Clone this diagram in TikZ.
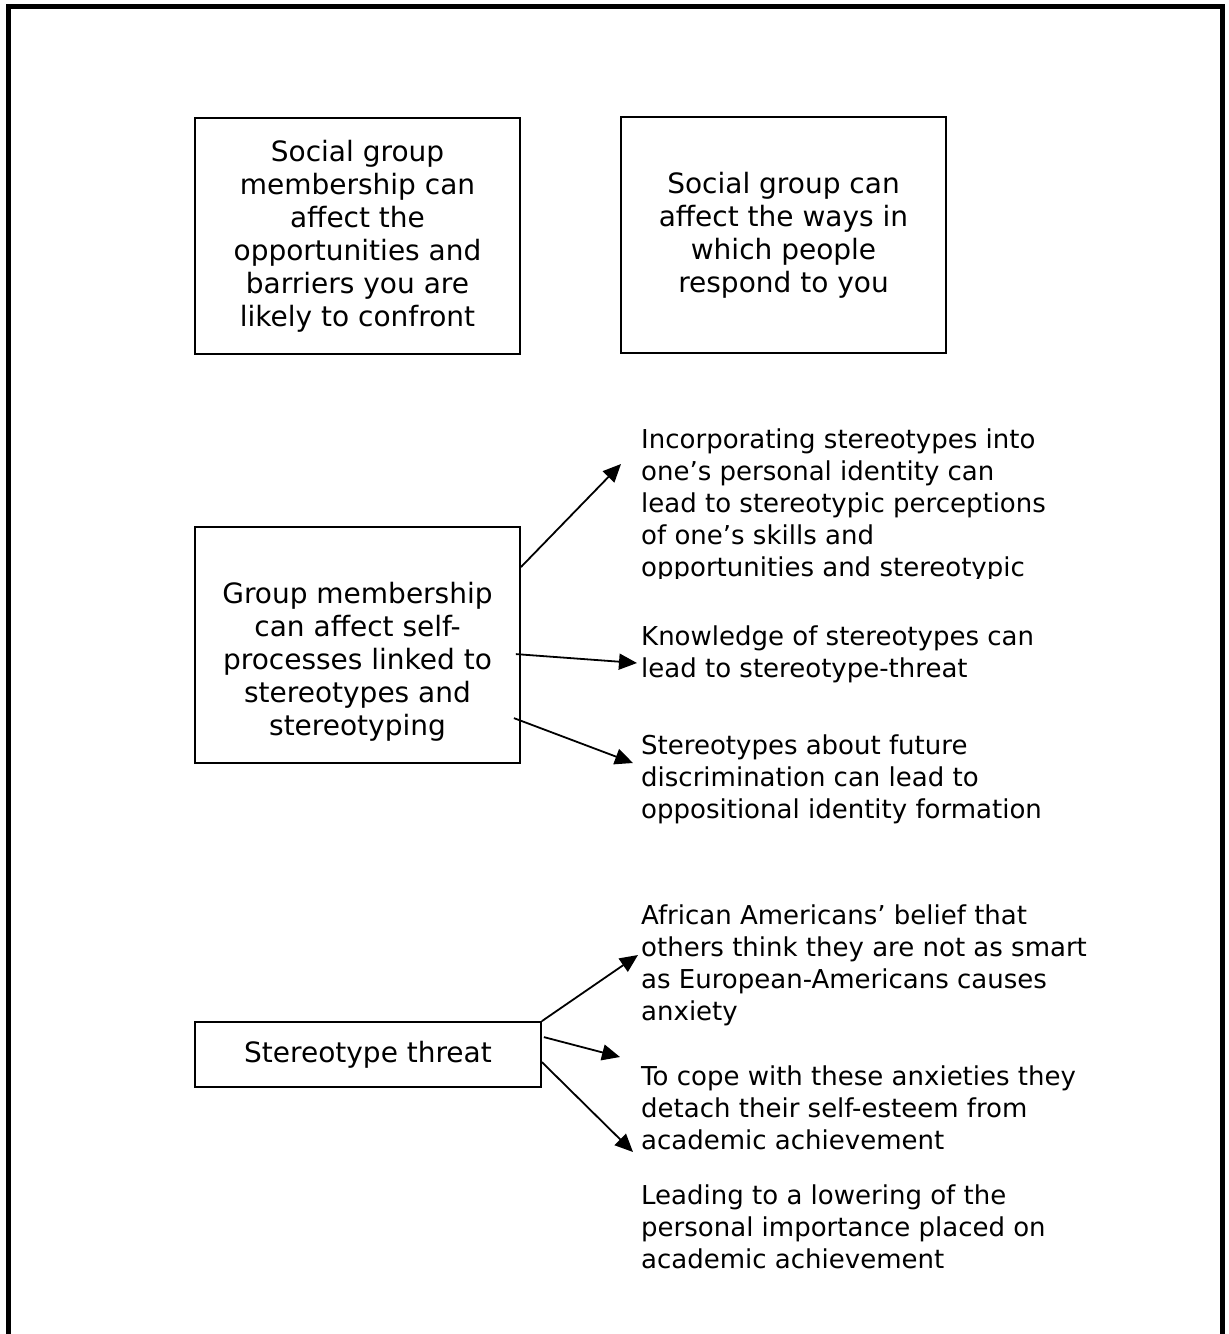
\documentclass[tikz,border=0pt]{standalone}
\usepackage{fontspec}
\setmainfont{DejaVu Sans}
\usetikzlibrary{arrows.meta,positioning,calc}

\begin{document}
\begin{tikzpicture}[x=1pt,y=-1pt,
    box/.style={rectangle, draw=black, line width=1.8pt,
                minimum width=325pt, minimum height=236pt, inner sep=0pt,
                font=\fontsize{28}{33}\selectfont, align=center},
    note/.style={anchor=north west, inner sep=0pt,
                 font=\fontsize{26}{32}\selectfont, align=left},
    link/.style={line width=1.8pt, -{Triangle[length=18pt,width=16pt]}},
]
\useasboundingbox (0,0) rectangle (1229,1334);

% page frame, open at the bottom
\draw[line width=5pt] (8.5,1334) -- (8.5,6.5) -- (1222,6.5) -- (1222,1334);

\node[box] (sgm) at (357.5,236) {Social group\\membership can\\affect the\\opportunities and\\barriers you are\\likely to confront};
\node[box] (sgr) at (783.5,235) {Social group can\\affect the ways in\\which people\\respond to you};

\node[box] (grp) at (357.5,645) {};
\node[font=\fontsize{28}{33}\selectfont, align=center, inner sep=0pt] (grptxt) at (357.5,662)
    {Group membership\\can affect self-\\processes linked to\\stereotypes and\\stereotyping};

\begin{scope}
\clip (600,400) rectangle (1229,578);
\node[note] (inc) at (641,429) {Incorporating stereotypes into\\one’s personal identity can\\lead to stereotypic perceptions\\of one’s skills and\\opportunities and stereotypic};
\end{scope}
\node[note] (know) at (641,626) {Knowledge of stereotypes can\\lead to stereotype-threat};
\node[note] (fut) at (641,735) {Stereotypes about future\\discrimination can lead to\\oppositional identity formation};

\node[box, minimum width=346pt, minimum height=65pt] (thr) at (368,1054.5) {Stereotype threat};

\node[note] (afr) at (641,905) {African Americans’ belief that\\others think they are not as smart\\as European-Americans causes\\anxiety};
\node[note] (cope) at (641,1066) {To cope with these anxieties they\\detach their self-esteem from\\academic achievement};
\node[note] (lead) at (641,1185) {Leading to a lowering of the\\personal importance placed on\\academic achievement};

\draw[link] ($(grp.north east)+(0,41)$) -- ($(inc.north west)+(-20,35)$);
\draw[link] ($(grp.north east)+(-5,128)$) -- ($(know.north west)+(-4,37)$);
\draw[link] ($(grp.north east)+(-7,192)$) -- ($(fut.north west)+(-8,28)$);

\draw[link] (thr.north east) -- ($(afr.north west)+(-3,50)$);
\draw[link] ($(thr.north east)+(2,16)$) -- ($(cope.north west)+(-21,-9)$);
\draw[link] ($(thr.north east)+(0,41)$) -- ($(cope.north west)+(-8,86)$);
\end{tikzpicture}
\end{document}
